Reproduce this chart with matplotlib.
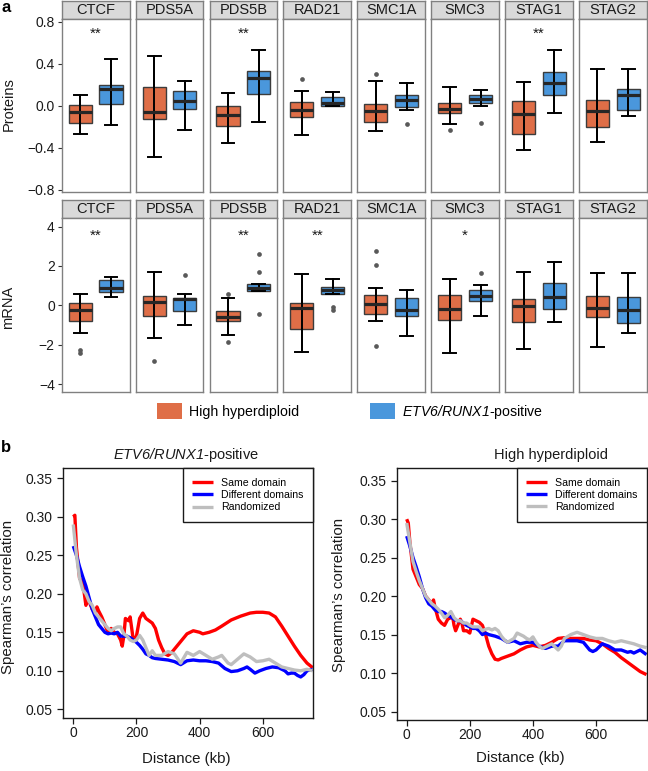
import matplotlib
matplotlib.use('Agg')
import matplotlib.pyplot as plt
from matplotlib.patches import Patch

plt.rcParams['font.family'] = ['Liberation Sans', 'DejaVu Sans']
plt.rcParams['mathtext.fontset'] = 'custom'
plt.rcParams['mathtext.rm'] = 'Liberation Sans:italic'
plt.rcParams['mathtext.it'] = 'Liberation Sans:italic'
plt.rcParams['axes.unicode_minus'] = True

# ---------------- data: panel a ----------------
genes = ["CTCF", "PDS5A", "PDS5B", "RAD21", "SMC1A", "SMC3", "STAG1", "STAG2"]
group_labels = ["High hyperdiploid", r"$ETV6/RUNX1$-positive"]

# [whisker low, Q1, median, Q3, whisker high]
prot_hh = [
    [-0.267, -0.162, -0.057, 0.010, 0.100],
    [-0.484, -0.127, -0.060, 0.175, 0.475],
    [-0.357, -0.188, -0.092, 0.000, 0.118],
    [-0.280, -0.105, -0.038, 0.035, 0.143],
    [-0.239, -0.156, -0.048, 0.019, 0.236],
    [-0.169, -0.073, -0.032, 0.029, 0.180],
    [-0.420, -0.264, -0.080, 0.045, 0.226],
    [-0.340, -0.200, -0.048, 0.057, 0.347],
]
prot_etv = [
    [-0.180, 0.020, 0.160, 0.200, 0.443],
    [-0.226, -0.030, 0.050, 0.137, 0.240],
    [-0.156, 0.115, 0.267, 0.328, 0.535],
    [-0.006, 0.003, 0.029, 0.080, 0.130],
    [-0.035, -0.010, 0.054, 0.099, 0.217],
    [-0.006, 0.029, 0.064, 0.105, 0.153],
    [-0.070, 0.105, 0.217, 0.320, 0.532],
    [-0.096, -0.035, 0.105, 0.156, 0.353],
]
prot_hh_out = [[], [], [], [0.255], [0.306], [-0.229], [], []]
prot_etv_out = [[], [], [], [], [-0.175], [-0.160], [], []]
prot_sig = ["**", "", "**", "", "", "", "**", ""]

mrna_hh = [
    [-1.43, -0.80, -0.22, 0.136, 0.594],
    [-1.66, -0.53, 0.153, 0.475, 1.71],
    [-1.49, -0.815, -0.594, -0.27, 0.357],
    [-2.39, -1.19, -0.15, 0.136, 1.61],
    [-0.80, -0.42, 0.068, 0.51, 0.90],
    [-2.44, -0.73, -0.20, 0.543, 1.32],
    [-2.20, -0.85, -0.034, 0.34, 1.68],
    [-2.10, -0.594, -0.136, 0.49, 1.66],
]
mrna_etv = [
    [0.41, 0.70, 0.90, 1.27, 1.46],
    [-1.02, -0.27, 0.306, 0.39, 0.594],
    [0.73, 0.73, 0.866, 1.087, 1.087],
    [0.56, 0.56, 0.76, 0.93, 1.36],
    [-1.58, -0.53, -0.255, 0.39, 0.80],
    [-0.56, 0.22, 0.49, 0.80, 1.02],
    [-0.83, -0.17, 0.41, 1.15, 2.20],
    [-1.41, -0.88, -0.22, 0.41, 1.66],
]
mrna_hh_out = [[-2.29, -2.41], [-2.82], [0.577, -1.87], [], [2.78, 2.04, -2.07], [], [], []]
mrna_etv_out = [[], [1.545], [2.63, 1.71, -0.44], [-0.085, -0.22], [], [1.66], [], []]
mrna_sig = ["**", "", "**", "**", "", "*", "", ""]

prot_ticks = [-0.8, -0.4, 0.0, 0.4, 0.8]
prot_ticklabels = ["\u22120.8", "\u22120.4", "0.0", "0.4", "0.8"]
mrna_ticks = [-4, -2, 0, 2, 4]
mrna_ticklabels = ["\u22124", "\u22122", "0", "2", "4"]

# ---------------- data: panel b ----------------
line_labels = ["Same domain", "Different domains", "Randomized"]

etv_same_x = [0, 5, 10, 20, 30, 35, 40, 45, 50, 60, 70, 75, 80, 90, 100, 110, 120, 130, 140, 150, 155, 160, 165, 175, 180, 190, 200, 210, 220, 230, 240, 250, 260, 270, 280, 290, 300, 310, 320, 340, 360, 380, 400, 410, 430, 450, 470, 500, 530, 560, 580, 600, 620, 640, 660, 680, 700, 720, 740, 758]
etv_same_y = [0.300, 0.302, 0.260, 0.220, 0.215, 0.200, 0.185, 0.195, 0.190, 0.180, 0.175, 0.183, 0.178, 0.170, 0.160, 0.150, 0.155, 0.150, 0.148, 0.140, 0.132, 0.145, 0.168, 0.165, 0.170, 0.140, 0.145, 0.168, 0.175, 0.168, 0.165, 0.162, 0.155, 0.140, 0.130, 0.122, 0.120, 0.123, 0.128, 0.138, 0.148, 0.152, 0.150, 0.148, 0.150, 0.153, 0.158, 0.166, 0.171, 0.175, 0.176, 0.176, 0.175, 0.170, 0.158, 0.145, 0.132, 0.120, 0.110, 0.104]

etv_diff_x = [0, 10, 20, 30, 40, 50, 60, 70, 80, 90, 100, 110, 120, 130, 140, 150, 160, 170, 180, 190, 200, 210, 220, 230, 240, 250, 260, 280, 300, 320, 340, 360, 380, 400, 420, 440, 460, 480, 500, 520, 540, 550, 560, 575, 590, 610, 630, 650, 670, 680, 690, 700, 710, 720, 730, 740, 758]
etv_diff_y = [0.262, 0.250, 0.235, 0.222, 0.210, 0.195, 0.180, 0.170, 0.160, 0.155, 0.150, 0.148, 0.149, 0.148, 0.150, 0.145, 0.145, 0.145, 0.143, 0.140, 0.137, 0.133, 0.128, 0.122, 0.120, 0.117, 0.116, 0.115, 0.114, 0.112, 0.108, 0.113, 0.114, 0.113, 0.113, 0.112, 0.110, 0.103, 0.099, 0.100, 0.103, 0.105, 0.102, 0.097, 0.100, 0.103, 0.105, 0.104, 0.100, 0.096, 0.097, 0.097, 0.094, 0.092, 0.095, 0.100, 0.102]

etv_rand_x = [0, 10, 20, 30, 40, 50, 60, 70, 80, 90, 100, 110, 120, 130, 140, 150, 160, 170, 180, 190, 200, 210, 220, 230, 240, 250, 260, 280, 300, 320, 340, 360, 380, 400, 420, 440, 460, 470, 490, 500, 520, 540, 560, 580, 600, 620, 640, 660, 680, 700, 720, 740, 758]
etv_rand_y = [0.290, 0.250, 0.220, 0.205, 0.200, 0.190, 0.185, 0.175, 0.170, 0.165, 0.160, 0.155, 0.152, 0.155, 0.157, 0.157, 0.148, 0.145, 0.140, 0.138, 0.140, 0.146, 0.140, 0.130, 0.120, 0.126, 0.120, 0.120, 0.125, 0.122, 0.110, 0.124, 0.120, 0.125, 0.120, 0.115, 0.118, 0.120, 0.110, 0.108, 0.115, 0.122, 0.118, 0.112, 0.113, 0.115, 0.110, 0.105, 0.103, 0.101, 0.100, 0.102, 0.100]

hh_same_x = [0, 5, 10, 20, 25, 30, 40, 50, 60, 70, 80, 85, 90, 100, 110, 120, 130, 140, 145, 150, 155, 160, 170, 175, 180, 190, 200, 210, 220, 230, 240, 250, 260, 270, 280, 290, 300, 320, 340, 360, 380, 400, 420, 440, 460, 480, 500, 520, 540, 560, 580, 600, 620, 640, 660, 680, 700, 720, 740, 760]
hh_same_y = [0.300, 0.295, 0.270, 0.235, 0.230, 0.225, 0.215, 0.210, 0.200, 0.195, 0.190, 0.195, 0.185, 0.170, 0.165, 0.162, 0.170, 0.172, 0.175, 0.162, 0.155, 0.160, 0.170, 0.165, 0.155, 0.155, 0.152, 0.170, 0.168, 0.166, 0.162, 0.150, 0.135, 0.125, 0.118, 0.117, 0.119, 0.122, 0.125, 0.130, 0.134, 0.136, 0.134, 0.136, 0.140, 0.145, 0.146, 0.145, 0.145, 0.145, 0.143, 0.142, 0.138, 0.132, 0.127, 0.120, 0.114, 0.108, 0.102, 0.098]

hh_diff_x = [0, 10, 20, 30, 40, 50, 60, 70, 80, 90, 100, 110, 120, 130, 140, 150, 160, 170, 180, 190, 200, 210, 220, 230, 240, 250, 260, 280, 300, 320, 340, 360, 380, 400, 420, 440, 460, 480, 500, 520, 540, 560, 580, 590, 600, 620, 640, 660, 680, 700, 710, 720, 740, 760]
hh_diff_y = [0.278, 0.265, 0.250, 0.238, 0.225, 0.210, 0.198, 0.190, 0.187, 0.182, 0.180, 0.180, 0.178, 0.175, 0.173, 0.170, 0.168, 0.168, 0.165, 0.162, 0.160, 0.158, 0.158, 0.155, 0.150, 0.152, 0.150, 0.148, 0.145, 0.140, 0.142, 0.138, 0.140, 0.140, 0.135, 0.132, 0.135, 0.135, 0.142, 0.142, 0.142, 0.140, 0.130, 0.128, 0.130, 0.138, 0.135, 0.130, 0.130, 0.127, 0.128, 0.126, 0.130, 0.124]

hh_rand_x = [0, 10, 20, 30, 40, 50, 60, 70, 80, 90, 100, 110, 120, 130, 140, 150, 160, 170, 180, 190, 200, 210, 220, 230, 240, 250, 260, 270, 280, 290, 300, 310, 320, 340, 350, 360, 370, 380, 390, 400, 410, 420, 430, 440, 460, 480, 490, 500, 520, 540, 560, 580, 600, 620, 640, 660, 680, 700, 720, 740, 760]
hh_rand_y = [0.295, 0.270, 0.245, 0.232, 0.220, 0.210, 0.200, 0.195, 0.190, 0.187, 0.183, 0.178, 0.172, 0.175, 0.180, 0.172, 0.168, 0.168, 0.165, 0.165, 0.162, 0.160, 0.160, 0.160, 0.155, 0.157, 0.158, 0.156, 0.158, 0.155, 0.148, 0.143, 0.140, 0.145, 0.152, 0.150, 0.148, 0.145, 0.143, 0.147, 0.140, 0.135, 0.132, 0.134, 0.138, 0.130, 0.135, 0.145, 0.150, 0.153, 0.150, 0.147, 0.145, 0.145, 0.142, 0.140, 0.142, 0.140, 0.138, 0.135, 0.133]

# ---------------- styling ----------------
W, H = 648, 771
C_HH = '#DF6E47'
C_ETV = '#4A97DC'
PANEL_EDGE = '#808080'
line_colors = ['#FF0000', '#0000FF', '#BEBEBE']


def box(x0, y0, x1, y1):
    return [x0 / W, 1 - y1 / H, (x1 - x0) / W, (y1 - y0) / H]


fig = plt.figure(figsize=(W / 100, H / 100), dpi=100)


def facet_row(hh, etv, hh_out, etv_out, sig, sig_y, ylim, ticks, ticklabels,
              ylabel, ylabel_y, strip_y0, strip_y1, py0, py1):
    for i, g in enumerate(genes):
        x0 = 61.7 + 73.9 * i
        x1 = x0 + 67.8
        sax = fig.add_axes(box(x0, strip_y0, x1, strip_y1))
        sax.set_facecolor('#D9D9D9')
        sax.set_xticks([]); sax.set_yticks([])
        for s in sax.spines.values():
            s.set_color(PANEL_EDGE); s.set_linewidth(1.0)
        sax.text(0.5, 0.47, g, ha='center', va='center', fontsize=10.5,
                 color='#1A1A1A', transform=sax.transAxes)

        ax = fig.add_axes(box(x0, py0, x1, py1))
        stats = []
        for v, o in ((hh[i], hh_out[i]), (etv[i], etv_out[i])):
            stats.append(dict(whislo=v[0], q1=v[1], med=v[2], q3=v[3],
                              whishi=v[4], fliers=o))
        res = ax.bxp(stats, positions=[1, 2], widths=0.75, patch_artist=True,
                     capwidths=0.42, zorder=2,
                     boxprops=dict(edgecolor='#3C3C3C', linewidth=1.0),
                     medianprops=dict(color='#262626', linewidth=2.3),
                     whiskerprops=dict(color='black', linewidth=1.4),
                     capprops=dict(color='black', linewidth=1.4),
                     flierprops=dict(marker='o', markersize=3.4,
                                     markerfacecolor='#595959',
                                     markeredgecolor='none'))
        for patch, c in zip(res['boxes'], [C_HH, C_ETV]):
            patch.set_facecolor(c)
        for j, st in enumerate(stats):
            ax.vlines(j + 1, st['whislo'], st['whishi'], color='black',
                      linewidth=1.4, zorder=2.5)
        for m in res['medians']:
            m.set_zorder(3)
        if sig[i]:
            ax.text(1.5, sig_y, sig[i], ha='center', va='center',
                    fontsize=11, color='#1A1A1A')
        ax.set_xlim(0.4, 2.6)
        ax.set_ylim(*ylim)
        ax.set_xticks([])
        for s in ax.spines.values():
            s.set_color(PANEL_EDGE); s.set_linewidth(1.0)
        if i == 0:
            ax.set_yticks(ticks)
            ax.set_yticklabels(ticklabels)
            ax.tick_params(axis='y', length=3, width=0.8, color='#333333',
                           labelsize=10, labelcolor='#1A1A1A', pad=2)
        else:
            ax.set_yticks([])
    fig.text(8.5 / W, 1 - ylabel_y / H, ylabel, rotation=90, ha='center',
             va='center', fontsize=10.5, color='#1A1A1A')


facet_row(prot_hh, prot_etv, prot_hh_out, prot_etv_out, prot_sig, 0.69,
          (-0.82, 0.83), prot_ticks, prot_ticklabels, "Proteins", 104.5,
          0.8, 18.6, 18.6, 192.0)
facet_row(mrna_hh, mrna_etv, mrna_hh_out, mrna_etv_out, mrna_sig, 3.52,
          (-4.39, 4.44), mrna_ticks, mrna_ticklabels, "mRNA", 307.0,
          199.5, 218.0, 218.0, 391.7)

handles = [Patch(facecolor=C_HH, edgecolor='none'),
           Patch(facecolor=C_ETV, edgecolor='none')]
fig.legend(handles, group_labels, loc='center',
           bbox_to_anchor=(350 / W, 1 - 412 / H), ncol=2, frameon=False,
           fontsize=10.2, handlelength=1.75, handleheight=1.35,
           handletextpad=0.5, columnspacing=5.0)

# ---------------- panel b ----------------
def line_panel(rect, xs, ys, xlim, ylim):
    ax = fig.add_axes(rect)
    for x, y, c, lab in zip(xs, ys, line_colors, line_labels):
        ax.plot(x, y, color=c, linewidth=2.4, label=lab, solid_capstyle='butt')
    ax.set_xlim(*xlim)
    ax.set_ylim(*ylim)
    ax.set_xticks([0, 200, 400, 600])
    ax.set_yticks([0.05, 0.10, 0.15, 0.20, 0.25, 0.30, 0.35])
    ax.set_yticklabels(["0.05", "0.10", "0.15", "0.20", "0.25", "0.30", "0.35"])
    ax.tick_params(axis='both', direction='out', length=4.3, width=0.9,
                   labelsize=10, color='#1A1A1A', labelcolor='#1A1A1A')
    ax.tick_params(axis='x', pad=1.5)
    ax.tick_params(axis='y', pad=3.5)
    for s in ax.spines.values():
        s.set_linewidth(1.0); s.set_color('#1A1A1A')
    leg = ax.legend(loc='upper right', bbox_to_anchor=(1.0, 1.0),
                    borderaxespad=0, fancybox=False, edgecolor='#1A1A1A',
                    framealpha=1, fontsize=7.6, handlelength=2.0,
                    handletextpad=0.7, labelspacing=0.22, borderpad=0.9)
    leg.get_frame().set_linewidth(1.0)
    return ax


line_panel(box(63.3, 468.3, 312.7, 718.3),
           [etv_same_x, etv_diff_x, etv_rand_x],
           [etv_same_y, etv_diff_y, etv_rand_y],
           (-31.6, 758), (0.0383, 0.363))
line_panel(box(397.3, 468.0, 646.7, 720.0),
           [hh_same_x, hh_diff_x, hh_rand_x],
           [hh_same_y, hh_diff_y, hh_rand_y],
           (-29.8, 760.7), (0.039, 0.3665))

fig.text(186 / W, 1 - 455 / H, r"$ETV6/RUNX1$-positive", ha='center',
         va='center', fontsize=10.5, color='#1A1A1A')
fig.text(551.5 / W, 1 - 455 / H, "High hyperdiploid", ha='center',
         va='center', fontsize=10.5, color='#1A1A1A')
fig.text(8 / W, 1 - 597 / H, "Spearman\u2019s correlation", rotation=90,
         ha='center', va='center', fontsize=10.8, color='#1A1A1A')
fig.text(339 / W, 1 - 595 / H, "Spearman\u2019s correlation", rotation=90,
         ha='center', va='center', fontsize=10.8, color='#1A1A1A')
fig.text(186 / W, 1 - 759 / H, "Distance (kb)", ha='center', va='center',
         fontsize=10.8, color='#1A1A1A')
fig.text(520 / W, 1 - 758 / H, "Distance (kb)", ha='center', va='center',
         fontsize=10.8, color='#1A1A1A')

fig.text(1 / W, 1 - 8 / H, "a", ha='left', va='center', fontsize=12,
         fontweight='bold')
fig.text(1 / W, 1 - 447 / H, "b", ha='left', va='center', fontsize=12,
         fontweight='bold')

fig.savefig('out.png', dpi=100)
